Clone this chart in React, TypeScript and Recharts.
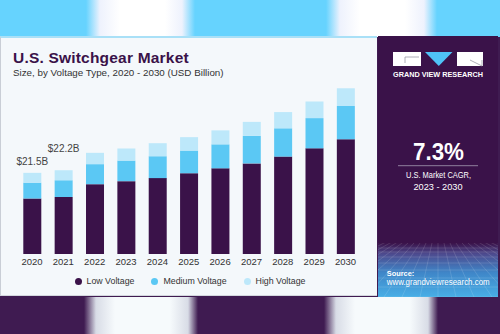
import { BarChart, Bar, XAxis, YAxis, Legend, LabelList } from 'recharts';

const years = ['2020', '2021', '2022', '2023', '2024', '2025', '2026', '2027', '2028', '2029', '2030'];
const seriesNames = ['Low Voltage', 'Medium Voltage', 'High Voltage'];
const lowVoltage = [14.7, 15.1, 18.5, 19.3, 20.1, 21.4, 22.7, 24.0, 25.8, 28.0, 30.4];
const mediumVoltage = [4.2, 4.45, 5.3, 5.45, 5.8, 6.0, 6.35, 7.3, 7.5, 8.0, 8.8];
const highVoltage = [2.6, 2.65, 3.0, 3.2, 3.45, 3.55, 3.7, 3.7, 4.3, 4.4, 4.7];
const totalLabels = ['$21.5B', '$22.2B', '', '', '', '', '', '', '', '', ''];

const rows = years.map((year, i) => ({
  year,
  low: lowVoltage[i],
  medium: mediumVoltage[i],
  high: highVoltage[i],
  total: totalLabels[i],
}));

const FONT = '"Liberation Sans", Arial, sans-serif';
const PURPLE = '#3a1249';

interface LegendItem {
  value: string;
  color: string;
}

function VoltageLegend({ payload }: { payload?: LegendItem[] }) {
  if (!payload) return null;
  // keep the stacking order, recharts sorts the payload by name
  const items = [...payload].sort((a, b) => seriesNames.indexOf(a.value) - seriesNames.indexOf(b.value));
  return (
    <div style={{ display: 'flex', justifyContent: 'center', gap: 17, fontSize: 8.8, color: '#333', fontFamily: FONT }}>
      {items.map((p) => (
        <span key={p.value} style={{ display: 'flex', alignItems: 'center' }}>
          <span style={{
            display: 'inline-block',
            width: 7,
            height: 7,
            borderRadius: '50%',
            background: p.color,
            marginRight: 5,
          }} />
          {p.value}
        </span>
      ))}
    </div>
  );
}

// the two labelled years sit at different heights in the original
const labelLift = [7.5, 18.5];

function TotalLabel(props: any) {
  const { x, y, width, value, index } = props;
  if (!value) return null;
  return (
    <text
      x={Number(x) + Number(width) / 2}
      y={Number(y) - (labelLift[index] ?? 8)}
      textAnchor="middle"
      fontSize={10}
      fill="#444"
      fontFamily={FONT}
    >
      {value}
    </text>
  );
}

function SidePanel() {
  // perspective grid in the blue footer
  const rungs = [212, 216, 221, 227, 234, 242, 251, 261];
  const spokes = Array.from({ length: 21 }, (_, i) => -120 + i * 18);
  return (
    <svg width={120} height={261} style={{ position: 'absolute', left: 378, top: 36 }}>
      <defs>
        <linearGradient id="foot" x1="0" y1="0" x2="0" y2="1">
          <stop offset="0" stopColor={PURPLE} />
          <stop offset="0.2" stopColor="#4d4a8e" />
          <stop offset="0.55" stopColor="#3f86c8" />
          <stop offset="1" stopColor="#48aee6" />
        </linearGradient>
        <clipPath id="footClip">
          <rect x={0} y={207} width={120} height={54} />
        </clipPath>
      </defs>
      <rect width={120} height={261} fill={PURPLE} />
      <rect x={0} y={207} width={120} height={54} fill="url(#foot)" />
      <g clipPath="url(#footClip)" stroke="#ffffff" strokeOpacity={0.22} strokeWidth={0.6}>
        {rungs.map((r) => <line key={r} x1={0} x2={120} y1={r} y2={r} />)}
        {spokes.map((s) => <line key={s} x1={60} y1={180} x2={s} y2={261} />)}
      </g>

      {/* logo */}
      <rect x={15} y={16} width={28} height={14} fill="#fff" />
      <polyline points="27,27 27,21 41,21" fill="none" stroke="#9a9aa6" strokeWidth={0.8} />
      <polygon points="47,16 74.5,16 60.8,30" fill="#4fc3f7" />
      <rect x={79} y={16} width={26} height={14} fill="#fff" />
      <polyline points="92,24 104,30 104,24" fill="none" stroke="#9a9aa6" strokeWidth={0.8} />
      <text x={60} y={40.5} textAnchor="middle" fontSize={7} fontWeight="bold" fill="#fff" fontFamily={FONT} textLength={90} lengthAdjust="spacingAndGlyphs">
        GRAND VIEW RESEARCH
      </text>

      <text x={60.5} y={124} textAnchor="middle" fontSize={23} fontWeight="bold" fill="#fff" fontFamily={FONT} textLength={51} lengthAdjust="spacingAndGlyphs">
        7.3%
      </text>
      <line x1={20} x2={100} y1={129.7} y2={129.7} stroke="#8f7f9e" strokeWidth={1} />
      <text x={60.5} y={142.3} textAnchor="middle" fontSize={9.5} fill="#fff" fontFamily={FONT} textLength={65} lengthAdjust="spacingAndGlyphs">
        U.S. Market CAGR,
      </text>
      <text x={60} y={153.5} textAnchor="middle" fontSize={9.5} fill="#fff" fontFamily={FONT} textLength={49} lengthAdjust="spacingAndGlyphs">
        2023 - 2030
      </text>

      <text x={8.7} y={239.5} fontSize={8} fontWeight="bold" fill="#fff" fontFamily={FONT} textLength={27.6} lengthAdjust="spacingAndGlyphs">
        Source:
      </text>
      <text x={8.7} y={248.5} fontSize={8.5} fill="#fff" fontFamily={FONT} textLength={103} lengthAdjust="spacingAndGlyphs">
        www.grandviewresearch.com
      </text>
    </svg>
  );
}

export default function App() {
  return (
    <div style={{ position: 'fixed', left: 0, top: 0, width: 500, height: 334, overflow: 'hidden', fontFamily: FONT, background: '#3f1b51' }}>
      {/* blurred page backdrop above and below the card */}
      <div style={{
        position: 'absolute', left: 0, top: 0, width: 500, height: 37,
        background: 'linear-gradient(90deg, #66d3fe 0px, #66d3fe 86px, #eef2fd 100px, #ffffff 120px, #ffffff 165px, #eef2fd 182px, #66d3fe 195px, #66d3fe 326px, #eef2fd 340px, #ffffff 360px, #ffffff 405px, #eef2fd 424px, #66d3fe 437px)',
      }} />
      <div style={{
        position: 'absolute', left: 0, top: 297, width: 500, height: 37,
        background: 'linear-gradient(90deg, #3f1b51 0px, #3f1b51 84px, #d8dce6 96px, #f6fafc 115px, #f6fafc 170px, #d8dce6 188px, #3f1b51 198px, #3f1b51 324px, #d8dce6 336px, #f6fafc 355px, #f6fafc 410px, #d8dce6 428px, #3f1b51 438px)',
      }} />

      {/* card */}
      <div style={{
        position: 'absolute', left: 0, top: 36, width: 377, height: 260,
        background: '#f4f8fb',
        borderTop: '2px solid #a9e0f7',
        borderLeft: '1px solid #c9ced6',
        borderBottom: '1px solid #d3d7de',
        boxSizing: 'border-box',
      }} />
      <div style={{ position: 'absolute', left: 13, top: 49, fontSize: 15.5, fontWeight: 'bold', color: PURPLE, letterSpacing: 0.2 }}>
        U.S. Switchgear Market
      </div>
      <div style={{ position: 'absolute', left: 13, top: 66.5, fontSize: 9.8, color: '#333' }}>
        Size, by Voltage Type, 2020 - 2030 (USD Billion)
      </div>

      <SidePanel />

      <div style={{ position: 'absolute', left: 0, top: 0 }}>
        <BarChart width={380} height={300} data={rows} margin={{ top: 65.25, right: 18.8, left: 16.3, bottom: 16 }}>
          <XAxis
            dataKey="year"
            axisLine={false}
            tickLine={false}
            tickSize={2}
            tickMargin={2}
            height={30}
            interval={0}
            tick={{ fontSize: 9.5, fill: '#333', fontFamily: FONT }}
          />
          <YAxis hide domain={[0, 50]} />
          <Legend
            verticalAlign="middle"
            align="center"
            layout="horizontal"
            wrapperStyle={{ top: 276, left: 0, width: 380 }}
            content={<VoltageLegend />}
          />
          <Bar dataKey="low" name={seriesNames[0]} stackId="v" fill={PURPLE} barSize={18} isAnimationActive={false} />
          <Bar dataKey="medium" name={seriesNames[1]} stackId="v" fill="#5bc8f4" barSize={18} isAnimationActive={false} />
          <Bar dataKey="high" name={seriesNames[2]} stackId="v" fill="#bde8fa" barSize={18} isAnimationActive={false}>
            <LabelList dataKey="total" content={<TotalLabel />} />
          </Bar>
        </BarChart>
      </div>
    </div>
  );
}
